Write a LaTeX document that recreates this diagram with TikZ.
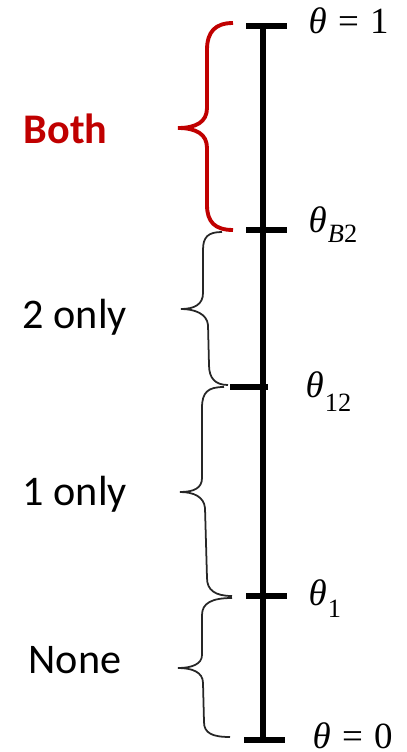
\documentclass[tikz,border=0pt]{standalone}
\usepackage{fontspec}
\setmainfont{Carlito}
\newfontfamily\tms{Liberation Serif}
\definecolor{bothred}{HTML}{C00000}
\tikzset{
  axis/.style={line width=1.45pt, black},
  tickmark/.style={line width=1.7pt, black},
  brc/.style={line width=0.5pt, black!85},
  redbrc/.style={line width=1.1pt, bothred},
  lbl/.style={inner sep=0pt, anchor=base west, font=\fontsize{12}{14}\selectfont},
  thl/.style={inner sep=0pt, anchor=base west, font=\tms\fontsize{10.5}{12}\selectfont},
}
\newcommand\thsub[2]{\textit{θ}\hspace{0.3pt}\raisebox{#1}{\fontsize{7.5}{8}\selectfont #2}}
\begin{document}
\begin{tikzpicture}[x=0.01cm, y=-0.01cm]
\useasboundingbox (0,0) rectangle (407,752);
% axis
\coordinate (top) at (263,26);
\coordinate (bot) at (263,740);
\draw[axis] (top) -- (bot);
% ticks
\draw[tickmark] (246,26) -- (287,26);
\draw[tickmark] (246,230) -- (287,230);
\draw[tickmark] (230,387) -- (268,387);
\draw[tickmark] (246,596) -- (287,596);
\draw[tickmark] (244,740) -- (285,740);
% theta labels
\node[thl] (t1) at (308,34) {\textit{θ}\hspace{3.2pt}=\hspace{3.2pt}1};
\node[thl] (tb2) at (308,233) {\thsub{-2.6pt}{\textit{B}2}};
\node[thl] (t12) at (305,397) {\thsub{-4.2pt}{12}};
\node[thl] (tone) at (308,605) {\thsub{-3.6pt}{1}};
\node[thl] (t0) at (312,748) {\textit{θ}\hspace{3.2pt}=\hspace{3.2pt}0};
% braces
\draw[redbrc] (233,23) .. controls (215,23) and (207,32) .. (207,50) -- (207,108)
  .. controls (207,122) and (196,128) .. (178,128)
  .. controls (196,128) and (207,134) .. (207,148) -- (207,205)
  .. controls (207,222) and (215,230) .. (233,230);
\draw[brc] (222,232) .. controls (208,232) and (203,237) .. (203,250) -- (203,293)
  .. controls (203,304) and (195,309) .. (181,309)
  .. controls (195,309) and (207,314) .. (208,325) -- (209,365)
  .. controls (209,378) and (215,385) .. (228,385);
\draw[brc] (224,387) .. controls (208,387) and (202,392) .. (202,408) -- (202,478)
  .. controls (202,488) and (194,492) .. (180,492)
  .. controls (194,492) and (204,497) .. (205,508) -- (207,578)
  .. controls (207,590) and (215,596) .. (232,596);
\draw[brc] (232,598) .. controls (212,598) and (202,603) .. (202,615) -- (202,655)
  .. controls (202,664) and (192,668) .. (178,668)
  .. controls (192,668) and (203,672) .. (203,683) -- (204,722)
  .. controls (204,733) and (212,737) .. (230,737);
% region labels
\node[lbl, text=bothred, font=\bfseries\fontsize{12}{14}\selectfont] (both) at (23,144) {Both};
\node[lbl] (two) at (22,328) {2 only};
\node[lbl] (one) at (22,505) {1 only};
\node[lbl] (none) at (28,673) {None};
\end{tikzpicture}
\end{document}
